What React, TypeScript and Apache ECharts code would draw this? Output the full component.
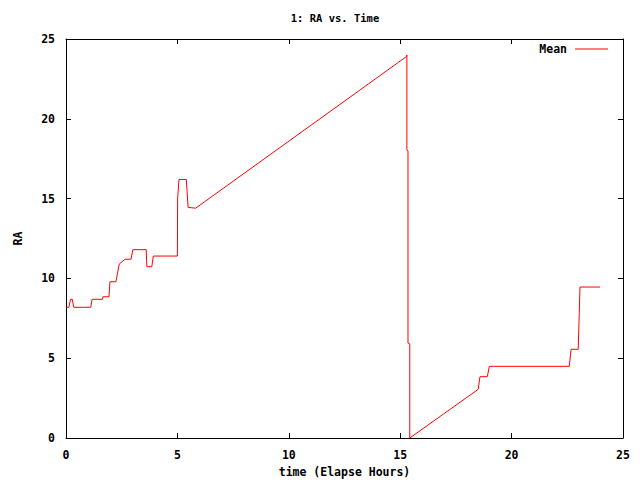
import React, { useEffect, useRef } from "react";
import * as echarts from "echarts";

const hours = [
  0, 0.13, 0.2, 0.28, 0.35, 1.11, 1.17, 1.63, 1.66, 1.93, 1.97, 2.24, 2.39, 2.65, 2.92, 3.0,
  3.6, 3.63, 3.85, 3.92, 5.0, 5.01, 5.07, 5.4, 5.48, 5.82, 15.28, 15.3, 15.3, 15.35, 15.35,
  15.43, 15.43, 18.5, 18.58, 18.91, 19.0, 22.59, 22.67, 22.99, 23.07, 23.97,
];
const ra = [
  8.19, 8.19, 8.69, 8.69, 8.19, 8.19, 8.69, 8.69, 8.85, 8.85, 9.79, 9.79, 10.9, 11.2, 11.2, 11.8,
  11.8, 10.73, 10.73, 11.4, 11.4, 14.97, 16.2, 16.2, 14.45, 14.4, 23.9, 24.0, 18.05, 18.0, 5.95,
  5.9, 0, 3.05, 3.84, 3.84, 4.49, 4.49, 5.56, 5.56, 9.46, 9.46,
];
const seriesName = "Mean";
const titleText = "1: RA vs. Time";
const xName = "time (Elapse Hours)";
const yName = "RA";

const FONT = "DejaVu Sans Mono";

export default function App() {
  const ref = useRef<HTMLDivElement>(null);
  useEffect(() => {
    if (!ref.current) return;
    const chart = echarts.init(ref.current, null, { renderer: "svg" });
    const data = hours.map((h, i) => [h, ra[i]]);
    const labelStyle = { fontFamily: FONT, fontWeight: "bold" as const, fontSize: 11.5, color: "#000" };
    const axisCommon = {
      type: "value" as const,
      axisLine: { show: true, onZero: false, lineStyle: { color: "#000", width: 1 } },
      axisTick: { show: true, inside: true, length: 5, lineStyle: { color: "#000" } },
      splitLine: { show: false },
    };
    chart.setOption({
      animation: false,
      backgroundColor: "#fff",
      graphic: [
        {
          type: "text",
          x: 335,
          y: 18,
          style: {
            text: titleText,
            fontFamily: FONT,
            fontWeight: "bold",
            fontSize: 10.5,
            fill: "#000",
            textAlign: "center",
            textVerticalAlign: "middle",
          },
        },
      ],
      legend: {
        data: [seriesName],
        right: 27,
        top: 38,
        align: "right",
        icon: "rect",
        itemWidth: 33,
        itemHeight: 1,
        itemGap: 0,
        textStyle: { ...labelStyle, padding: [0, 3, 0, 0] },
      },
      grid: { left: 66, top: 39, right: 17, bottom: 42, outerBoundsMode: "none" },
      xAxis: [
        {
          ...axisCommon,
          min: 0,
          max: 25,
          interval: 5,
          position: "bottom",
          name: xName,
          nameLocation: "middle",
          nameGap: 26,
          nameTextStyle: { ...labelStyle },
          axisLabel: { ...labelStyle, margin: 11 },
        },
        {
          ...axisCommon,
          min: 0,
          max: 25,
          interval: 5,
          position: "top",
          axisLabel: { show: false },
        },
      ],
      yAxis: [
        {
          ...axisCommon,
          min: 0,
          max: 25,
          interval: 5,
          position: "left",
          name: yName,
          nameLocation: "middle",
          nameRotate: 90,
          nameGap: 42,
          nameTextStyle: { ...labelStyle },
          axisLabel: { ...labelStyle, margin: 11 },
        },
        {
          ...axisCommon,
          min: 0,
          max: 25,
          interval: 5,
          position: "right",
          axisLabel: { show: false },
        },
      ],
      series: [
        {
          name: seriesName,
          type: "line",
          data,
          showSymbol: false,
          symbol: "none",
          lineStyle: { color: "#ff0000", width: 1 },
          itemStyle: { color: "#ff0000" },
        },
      ],
    });
    return () => chart.dispose();
  }, []);
  return (
    <div
      ref={ref}
      style={{ position: "fixed", left: 0, top: 0, width: 640, height: 480, background: "#fff" }}
    />
  );
}
